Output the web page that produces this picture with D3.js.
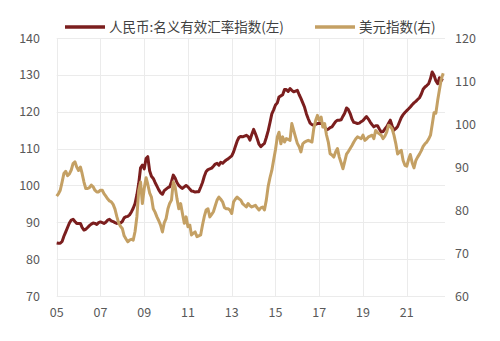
<!DOCTYPE html>
<html><head><meta charset="utf-8">
<script src="https://cdn.jsdelivr.net/npm/d3@7"></script>
<style>
html,body{margin:0;padding:0;background:#fff;}
svg{display:block;font-family:"Noto Sans CJK SC","Noto Sans",sans-serif;}
</style></head>
<body><svg id="c" width="500" height="341"></svg>
<script>
// Monthly data 2005-01 .. 2022-09
const startMonth = "2005-01";
const seriesNames = ["人民币:名义有效汇率指数(左)", "美元指数(右)"];
const cnyNeer = [
84.4,84.3,84.3,84.8,86.2,87.4,88.6,89.8,90.6,90.8,90.2,89.7,
89.7,89.7,88.6,87.9,88.1,88.6,89.1,89.5,89.8,89.7,89.4,89.9,
90.1,89.9,89.7,90.0,90.6,90.8,90.4,90.2,89.9,89.7,89.8,89.8,
90.2,91.2,91.5,91.6,92.0,92.8,93.8,95.1,97.5,100.5,104.8,105.5,
104.5,107.3,107.8,104.0,102.5,101.9,100.8,99.8,98.8,98.0,97.6,98.6,
99.0,99.4,99.6,101.0,102.8,102.0,100.8,100.0,99.5,99.2,99.6,100.0,
99.6,99.0,98.5,98.4,98.2,98.3,98.3,99.5,100.8,102.5,103.8,104.3,
104.5,104.7,105.2,105.8,106.0,105.5,106.3,106.0,106.5,106.9,107.2,107.6,
108.0,109.1,110.5,112.0,113.0,113.3,113.2,113.4,113.6,113.3,112.3,113.8,
115.2,114.0,112.7,111.2,110.5,111.0,111.4,113.0,114.8,117.0,119.4,120.5,
121.8,122.4,124.0,124.3,124.6,126.0,126.0,125.5,126.3,125.8,125.4,125.6,
125.8,124.6,123.6,122.4,121.2,119.4,118.1,116.9,116.5,116.3,116.6,116.8,
116.8,116.8,116.6,115.8,115.1,115.3,115.7,115.9,116.6,117.3,117.7,117.7,
117.8,118.8,119.6,121.0,120.6,119.5,118.0,117.1,117.0,116.8,116.9,117.3,
117.6,118.2,118.7,118.0,117.2,116.5,115.9,116.2,116.2,115.3,114.5,114.6,
115.3,115.9,116.8,117.7,116.2,115.0,115.4,116.0,117.2,118.4,119.2,119.8,
120.3,120.8,121.3,121.9,122.4,122.8,123.3,123.8,124.8,126.1,126.7,127.1,
127.6,129.0,130.8,129.9,128.4,127.6,129.2,128.7,128.5
];
const dxy = [
83.2,83.8,84.6,86.5,88.5,89.0,88.0,88.4,89.3,90.8,91.2,90.0,
89.2,90.0,88.5,86.5,85.0,85.0,85.2,85.8,85.4,84.6,84.2,84.2,
84.6,84.6,83.8,83.2,82.6,82.1,81.9,81.3,80.2,78.5,77.0,76.2,
75.7,74.0,73.3,72.6,73.0,73.2,73.0,75.0,78.5,84.5,86.5,81.5,
85.0,87.5,86.0,84.0,83.0,80.3,79.5,78.4,77.5,76.5,74.9,77.0,
78.0,80.3,81.5,82.3,86.5,85.4,82.7,80.3,81.5,79.2,76.9,78.4,
76.1,76.5,74.2,74.6,74.9,73.8,74.0,74.2,76.5,78.5,80.0,80.3,
78.4,79.0,79.6,81.0,82.3,83.0,82.5,81.9,80.6,80.3,80.3,80.0,
79.2,81.9,82.5,83.0,82.6,82.3,81.5,81.1,80.7,81.5,81.0,80.7,
80.9,81.1,80.5,80.0,80.5,80.7,80.0,82.3,85.5,87.5,89.2,91.6,
94.0,97.0,98.1,95.4,97.0,95.8,96.6,96.4,96.2,100.1,98.5,97.0,
95.5,94.7,93.5,95.4,95.8,96.0,96.2,96.0,95.8,98.9,100.8,102.0,
100.8,101.6,99.3,100.1,97.5,95.8,93.1,92.8,92.3,93.5,94.3,92.3,
91.0,89.6,91.2,93.0,93.6,94.3,95.0,95.8,96.5,97.0,96.8,96.6,
97.4,96.2,96.5,97.0,97.2,97.4,96.6,98.5,98.0,97.7,97.4,96.6,
97.2,98.1,99.7,99.4,98.9,97.4,95.5,93.0,93.5,93.9,91.5,90.4,
90.2,91.8,92.9,91.0,89.8,91.5,92.3,93.0,93.8,94.8,95.4,95.8,
96.5,97.4,99.8,102.6,102.5,105.5,108.0,110.5,111.8
];
const leftTicks = [70, 80, 90, 100, 110, 120, 130, 140];
const rightTicks = [60, 70, 80, 90, 100, 110, 120];
const xTickYears = [2005, 2007, 2009, 2011, 2013, 2015, 2017, 2019, 2021];
const xTickLabels = ["05", "07", "09", "11", "13", "15", "17", "19", "21"];

const colors = ["#7B1E1E", "#C4A064"];
const svg = d3.select("#c");
const parse = d3.timeParse("%Y-%m");
const t0 = parse(startMonth);
const dates = cnyNeer.map((_, i) => d3.timeMonth.offset(t0, i));

const x = d3.scaleTime().domain([t0, new Date(2022, 9, 1)]).range([56.7, 445]);
const yL = d3.scaleLinear().domain([70, 140]).range([296, 38]);
const yR = d3.scaleLinear().domain([60, 120]).range([296, 38]);

const grid = svg.append("g");
grid.selectAll("line.h").data(leftTicks).join("line")
  .attr("x1", x.range()[0]).attr("x2", x.range()[1])
  .attr("y1", d => Math.round(yL(d)) + 0.5).attr("y2", d => Math.round(yL(d)) + 0.5)
  .attr("stroke", "#ebebeb").attr("stroke-width", 1);
grid.selectAll("line.v").data(xTickYears).join("line")
  .attr("x1", d => Math.round(x(new Date(d, 0, 1))) + 0.5)
  .attr("x2", d => Math.round(x(new Date(d, 0, 1))) + 0.5)
  .attr("y1", yL(140)).attr("y2", yL(70))
  .attr("stroke", "#ebebeb").attr("stroke-width", 1);

const tickStyle = s => s.attr("fill", "#595959").attr("font-size", "12.5px");
svg.append("g").selectAll("text").data(leftTicks).join("text")
  .attr("x", 40).attr("y", d => yL(d)).attr("dy", "0.36em")
  .attr("text-anchor", "end").text(d => d).call(tickStyle);
svg.append("g").selectAll("text").data(rightTicks).join("text")
  .attr("x", 455).attr("y", d => yR(d)).attr("dy", "0.36em")
  .attr("text-anchor", "start").text(d => d).call(tickStyle);
svg.append("g").selectAll("text").data(xTickYears).join("text")
  .attr("x", d => x(new Date(d, 0, 1))).attr("y", 312).attr("dy", "0.36em")
  .attr("text-anchor", "middle").text((d, i) => xTickLabels[i]).call(tickStyle);

const lineL = d3.line().x((d, i) => x(dates[i])).y(d => yL(d)).curve(d3.curveLinear);
const lineR = d3.line().x((d, i) => x(dates[i])).y(d => yR(d)).curve(d3.curveLinear);
svg.append("path").datum(cnyNeer).attr("d", lineL).attr("fill", "none")
  .attr("stroke", colors[0]).attr("stroke-width", 3).attr("stroke-linejoin", "round");
svg.append("path").datum(dxy).attr("d", lineR).attr("fill", "none")
  .attr("stroke", colors[1]).attr("stroke-width", 3).attr("stroke-linejoin", "round");

// legend
const legendX = [65, 315];
const lg = svg.append("g").selectAll("g").data(seriesNames).join("g")
  .attr("transform", (d, i) => `translate(${legendX[i]},27)`);
lg.append("line").attr("x1", 0).attr("x2", 40).attr("y1", 0).attr("y2", 0)
  .attr("stroke", (d, i) => colors[i]).attr("stroke-width", 3.5);
lg.append("text").attr("x", 44).attr("y", 0).attr("dy", "0.36em")
  .attr("fill", "#404040").attr("font-size", "13.5px").text(d => d);
</script></body></html>
